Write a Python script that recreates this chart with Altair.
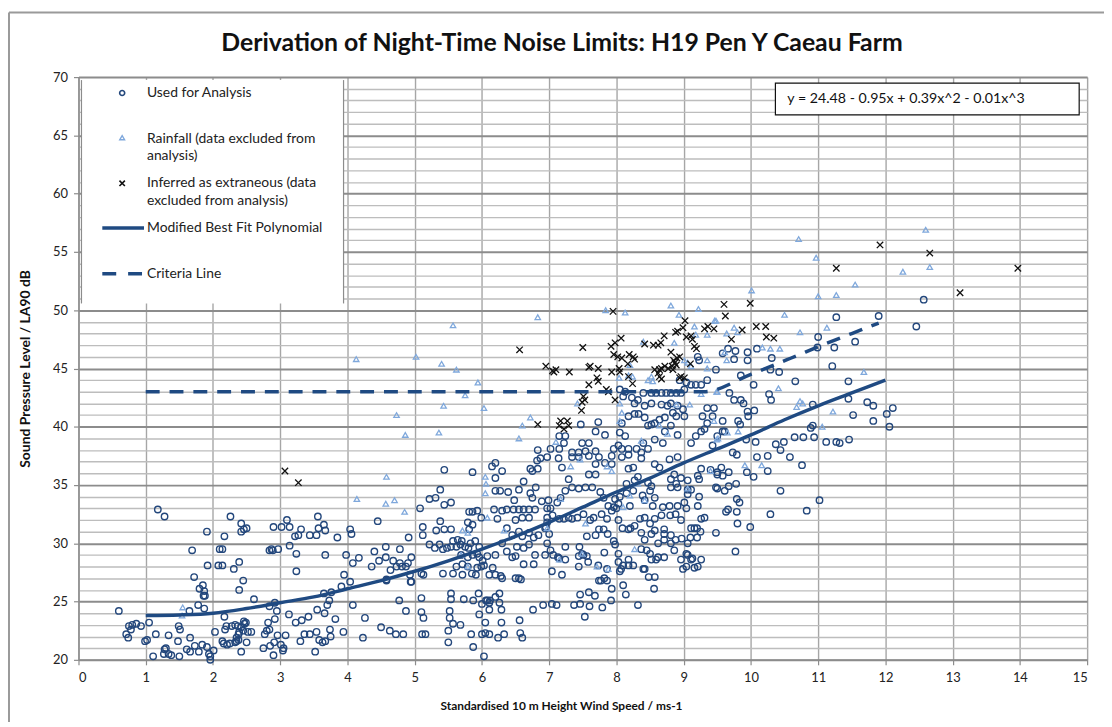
import altair as alt
import pandas as pd

# ---------------- data ----------------
used_pts = [
(0.60,24.2),(1.18,32.9),(1.28,32.3),(1.91,31.0),(2.26,32.3),(2.42,31.7),(2.42,31.0),(2.46,31.2),(2.50,31.3),(2.17,30.6),
(1.69,29.4),(2.10,29.5),(2.14,29.5),(1.92,28.1),(2.08,28.1),(2.14,28.1),(2.31,27.8),(2.39,28.4),(1.72,27.1),(1.85,26.4),
(1.80,26.1),(1.87,25.9),(1.88,25.5),(1.86,25.5),(2.45,26.8),(2.39,26.0),(2.61,25.2),(1.78,24.7),(1.87,24.4),(1.65,24.2),
(2.17,23.7),(2.46,23.3),(2.49,23.2),(2.28,22.9),(2.33,23.0),(2.37,22.9),(2.42,22.8),(2.47,23.1),(2.18,22.6),(2.20,22.9),
(2.39,22.4),(2.45,22.5),(2.52,22.4),(2.57,22.4),(2.35,21.9),(2.38,22.2),(2.50,21.5),(2.33,21.5),(2.35,21.6),(2.38,21.7),
(2.14,21.6),(2.16,21.4),(2.21,21.3),(2.25,21.4),(2.42,20.7),(2.03,22.4),(1.05,23.2),(0.75,22.9),(0.80,23.0),(0.86,23.1),
(0.93,22.9),(0.78,22.6),(0.71,22.2),(0.74,21.9),(0.99,21.6),(1.02,21.7),(1.15,22.2),(1.34,22.1),(1.49,22.9),(1.51,22.6),
(1.48,21.6),(1.66,21.9),(1.11,20.3),(1.28,20.9),(1.30,21.0),(1.27,20.5),(1.34,20.5),(1.38,20.4),(1.50,20.3),(1.61,20.9),
(1.66,20.7),(1.73,21.2),(1.79,20.7),(1.84,21.3),(1.91,21.1),(1.94,20.5),(1.96,20.3),(1.96,20.0),(2.01,20.8),(2.90,31.4),
(3.02,31.4),(3.14,31.4),(3.10,32.0),(3.31,31.2),(3.22,30.6),(3.27,30.7),(3.44,30.7),(3.54,30.7),(3.56,32.3),(3.57,31.3),
(3.65,31.6),(3.67,31.1),(2.84,29.4),(2.87,29.5),(2.89,29.4),(2.97,29.5),(3.14,29.8),(3.24,29.1),(3.24,27.6),(3.67,29.0),
(2.84,24.6),(2.92,24.9),(2.95,24.2),(3.13,23.9),(3.23,23.2),(3.32,23.4),(3.42,23.7),(3.55,24.3),(3.66,24.0),(3.65,25.7),
(2.92,23.5),(2.82,23.2),(2.80,22.5),(2.84,22.6),(2.77,22.2),(2.96,22.1),(3.08,22.1),(3.30,21.6),(3.36,22.2),(3.44,22.2),
(3.54,22.4),(3.58,21.7),(3.63,21.5),(3.67,21.6),(2.75,21.0),(2.85,21.2),(2.91,21.5),(3.01,21.3),(3.05,21.0),(3.04,20.8),
(2.90,20.4),(3.52,20.7),(3.73,25.1),(3.82,23.5),(3.70,24.7),
(3.85,30.5),(4.04,31.2),(4.06,30.8),(4.45,31.9),(3.98,29.0),(4.17,28.75),(4.08,28.3),(4.36,28.0),(4.47,28.5),(4.57,28.8),
(4.68,28.5),(4.78,28.3),(4.87,28.0),(4.95,28.8),(4.40,29.3),(4.57,29.7),(4.78,29.5),(4.91,30.5),(4.64,27.7),(4.73,28.0),
(4.81,28.0),(4.90,28.3),(4.58,26.9),(4.95,26.7),(3.91,26.3),(3.95,27.3),(4.04,26.7),(3.76,25.8),(4.08,24.7),(4.77,25.1),
(4.87,24.2),(5.10,25.3),(5.10,24.1),(5.13,23.6),(4.26,23.6),(3.94,22.4),(3.74,22.6),(3.75,22.0),(4.50,22.8),(4.63,22.5),
(4.72,22.2),(4.83,22.2),(4.23,21.9),(5.11,22.2),(5.16,22.2),(5.50,22.5),(5.50,21.5),(5.52,23.6),(5.57,23.1),(5.52,24.2),
(5.54,25.2),(5.54,25.7),(5.68,23.0),(5.73,25.2),(5.87,25.1),(5.96,23.9),(6.00,24.8),(6.06,25.1),(6.11,24.9),(6.12,25.1),
(5.84,22.2),(5.87,21.1),(6.00,22.2),(6.05,22.3),(6.11,22.2),(6.24,21.9),(6.33,22.2),(6.05,23.2),(6.29,23.2),(6.29,24.3),
(6.03,20.3),(5.95,25.7),(6.26,25.7),(6.56,23.4),(6.57,22.3),(6.60,21.9),(6.76,24.3),(6.91,24.7),(7.04,24.8),(5.08,33.0),
(5.12,31.4),(5.22,33.8),(5.38,34.6),(5.31,33.9),(5.44,33.3),(5.54,33.5),(5.12,30.7),(5.22,29.9),(5.30,29.6),(5.37,29.9),
(5.42,29.5),(5.48,29.6),(5.54,29.7),(5.62,29.7),(5.68,29.9),(5.75,29.7),(5.80,29.6),(5.32,31.1),(5.38,31.9),(5.44,31.2),
(5.54,31.2),(5.57,30.2),(5.64,30.3),(5.70,30.2),(5.79,31.8),(5.81,32.7),(5.86,32.7),(5.93,32.8),(5.81,31.2),(5.86,31.6),
(5.99,32.2),(6.18,32.9),(6.23,32.1),(6.30,32.8),(6.20,34.5),(6.27,34.5),(6.39,34.4),(6.48,33.7),(6.55,34.6),(6.62,35.3),
(6.72,34.3),(6.75,33.9),(6.80,34.8),(6.20,35.6),(5.86,36.1),(5.44,36.3),(6.37,32.9),(6.47,32.9),(6.55,32.9),(6.62,32.9),
(6.70,32.9),(6.79,32.9),(6.50,32.0),(6.60,32.2),(6.70,32.2),(6.37,31.3),(6.45,30.7),(6.55,31.0),(6.60,30.6),(6.70,30.9),
(6.77,30.5),(6.84,30.7),(6.89,33.6),(6.97,33.0),(6.99,33.7),(6.94,31.3),(6.52,29.7),(6.62,29.6),(6.70,29.9),(6.30,30.0),
(6.37,29.3),(6.45,28.8),(6.50,28.9),(6.20,29.0),(6.62,28.2),(6.77,28.2),(6.79,29.0),(6.94,29.0),(7.06,29.0),(6.50,27.0),
(6.55,27.0),(6.58,26.9),(5.93,27.9),(5.99,28.0),(6.03,28.1),(6.11,27.3),(6.16,27.9),(6.20,27.3),(6.28,27.2),(6.30,27.0),
(5.93,29.1),(5.96,28.8),(6.01,28.5),(6.08,28.9),(5.96,29.7),(5.90,30.2),(5.83,30.0),(5.62,28.0),(5.71,28.2),(5.79,28.0),
(5.85,27.4),(5.91,27.3),(5.42,27.4),(5.57,27.4),(5.71,27.3),(4.94,26.7),(4.93,27.3),(5.10,27.4),(5.13,27.3),(4.58,26.8),
(5.69,29.0),(5.79,28.8),(5.86,29.0),(6.26,24.9),(6.20,25.4),(6.08,25.1),(6.11,24.3),
(6.15,36.6),(6.20,36.9),(6.30,36.2),(6.83,38.0),(6.87,37.3),(6.82,37.1),(6.72,36.4),(6.83,36.4),(6.75,36.2),
(7.53,23.7),(7.11,24.7),(7.37,24.7),(7.46,24.8),(7.60,24.6),(7.68,25.5),(7.79,24.5),(7.92,25.1),(7.93,26.1),(8.10,26.4),
(8.14,25.6),(8.32,24.7),(8.56,26.1),(8.48,27.1),(8.40,27.8),(7.59,25.8),(7.46,25.6),(7.19,27.3),(7.04,27.6),(7.15,28.7),
(7.44,28.9),(7.49,29.1),(7.56,28.9),(7.58,28.4),(7.73,28.1),(7.86,27.8),(7.82,27.0),(7.77,26.8),(7.74,26.8),(7.86,26.8),
(8.03,28.4),(8.10,28.1),(8.18,28.1),(8.25,28.1),(8.05,27.6),(8.07,27.8),(8.18,28.6),(8.03,29.1),(7.82,29.2),(7.96,30.2),
(7.98,29.9),(7.24,29.7),(7.02,29.4),(7.45,29.7),(7.74,31.2),(7.87,30.8),(7.81,31.2),(7.69,30.7),(7.56,30.6),(8.09,31.3),
(8.21,31.3),(8.37,30.9),(8.57,31.1),(8.52,30.8),(8.42,30.3),(8.62,30.0),(8.71,30.3),(8.81,30.0),(8.88,30.3),(8.97,30.4),
(9.10,30.5),(9.20,30.5),(9.06,30.0),(9.25,31.0),(9.11,31.3),(9.16,31.3),(9.20,31.3),(8.71,30.8),(8.81,30.7),(8.71,31.2),
(8.37,29.5),(8.45,29.4),(8.50,29.1),(8.62,28.8),(8.71,28.8),(8.52,28.6),(8.59,28.6),(9.11,28.6),(9.26,28.6),(9.16,27.9),
(9.48,30.9),(9.31,32.2),(9.26,32.1),(8.96,32.0),(8.88,32.5),(8.80,32.4),(8.67,32.4),(8.57,32.1),(8.57,33.9),(8.42,33.7),
(8.54,33.2),(8.69,33.1),(8.79,33.2),(8.91,33.2),(9.01,33.5),(9.04,33.0),(9.21,33.2),(9.23,34.0),(8.81,35.5),(8.89,35.1),
(8.91,34.8),(8.81,34.8),(8.86,35.9),(8.96,35.6),(9.06,35.4),(9.23,35.5),(9.21,35.8),(9.26,36.4),(9.40,36.3),(9.50,35.9),
(9.48,34.8),(9.06,34.2),(9.11,34.6),(9.06,34.6),(8.50,34.5),(8.39,34.1),(8.52,34.9),(8.47,35.2),(8.32,35.7),(8.27,35.4),
(8.25,34.5),(8.15,35.1),(8.15,34.3),(8.05,34.0),(7.98,33.8),(7.96,33.1),(8.03,33.4),(7.88,33.2),(7.81,33.9),(7.76,34.4),
(7.64,34.8),(7.54,34.8),(7.44,34.7),(7.34,34.8),(7.24,34.5),(7.17,33.9),(7.12,33.5),(7.02,33.0),(6.97,32.2),(7.05,32.4),
(7.15,32.1),(7.22,32.1),(7.29,32.2),(7.34,32.1),(7.42,32.2),(7.51,32.5),(7.61,32.0),(7.66,32.2),(7.78,32.5),(7.86,32.1),
(7.93,32.8),(8.00,33.0),(8.03,32.0),(8.18,31.2),(8.27,31.5),(8.35,32.1),(8.42,32.2),(8.50,31.7),(8.20,33.2),(7.14,37.3),
(7.19,36.5),(7.34,37.4),(7.44,37.4),(7.59,37.5),(7.69,36.8),(7.74,37.4),(7.83,36.9),(7.93,36.8),(8.08,37.4),(8.18,36.4),
(8.25,36.5),(8.37,37.3),(8.57,36.8),(8.64,36.5),(8.79,37.2),(8.91,37.4),(7.69,35.9),(7.59,35.9),(7.29,35.5),(6.97,30.0),
(7.00,30.8),(6.97,31.8),(6.95,31.4),(7.24,28.6),(7.13,28.8),(7.44,28.0),(7.51,29.0),(8.42,27.8),(8.57,27.1),(8.96,28.6),
(8.99,27.8),(9.04,28.0),(8.86,29.4),(9.04,29.1),(9.06,29.0),(9.13,28.7),(9.21,28.0),
(9.21,46.0),(9.23,45.7),(9.48,44.9),(9.35,44.0),(9.26,43.6),(9.18,43.6),(9.11,43.6),(9.04,43.8),(8.94,44.0),(9.01,43.2),
(8.05,43.2),(8.13,43.0),(8.10,42.6),(8.23,42.5),(8.32,42.3),(8.40,42.9),(8.52,42.9),(8.59,42.9),(8.67,42.9),(8.74,42.9),
(8.81,42.9),(8.89,42.9),(8.96,42.9),(8.27,42.0),(8.42,41.8),(8.52,42.0),(8.67,41.9),(8.81,42.0),(8.91,41.8),(8.18,40.9),
(8.27,41.1),(8.08,40.3),(8.33,41.1),(8.42,40.8),(8.47,40.1),(8.52,40.2),(8.57,40.3),(8.64,40.6),(8.72,40.8),(8.84,41.2),
(8.76,41.8),(8.89,40.9),(8.99,41.5),(9.01,40.9),(8.81,40.1),(8.72,39.6),(8.91,39.3),(8.05,39.5),(8.13,39.2),(8.03,38.4),
(8.18,38.1),(8.30,38.1),(8.40,38.6),(8.57,38.9),(8.69,38.6),(8.47,38.1),(8.37,37.8),(8.18,37.6),(8.08,38.1),(7.96,38.1),
(7.93,37.5),(7.47,40.2),(7.15,39.2),(7.24,39.2),(7.22,38.6),(7.49,38.6),(7.59,38.6),(7.15,38.1),(7.34,37.8),(7.44,37.8),
(7.54,37.9),(7.69,37.9),(7.73,40.4),(7.69,39.6),(7.83,39.3),(9.35,41.6),(9.45,41.6),(9.28,40.9),(9.43,40.9),(9.35,40.3),
(9.31,39.8),(9.26,39.6),(9.18,39.2),(9.11,38.6),(9.43,38.4),(9.50,39.2),(9.58,39.6),(6.97,37.4),(7.02,38.1),
(11.90,49.5),(11.27,49.4),(11.55,47.3),(11.00,47.7),(10.99,46.8),(11.24,46.8),(11.21,45.2),(9.66,46.7),(9.77,46.5),(9.95,46.4),
(9.58,46.3),(9.75,45.8),(9.95,45.7),(10.09,46.7),(10.31,45.9),(10.42,44.7),(10.29,44.9),(9.85,44.4),(10.04,43.6),(10.66,43.9),
(11.45,43.9),(10.27,42.8),(10.30,42.3),(9.75,42.3),(9.85,42.3),(9.89,42.0),(9.68,42.9),(10.92,41.9),(11.45,42.4),(11.73,42.1),
(11.82,41.8),(11.52,41.0),(11.82,40.5),(9.95,41.3),(9.96,40.9),(10.05,41.4),(9.58,40.5),(9.81,40.5),(9.84,40.2),(9.61,39.6),
(10.89,39.9),(10.92,40.1),(10.65,39.1),(10.78,39.1),(10.94,39.1),(11.12,38.7),(11.27,38.7),(11.32,38.6),(11.46,38.9),(10.07,38.7),
(9.93,38.9),(10.37,38.5),(10.49,38.7),(10.44,38.0),(9.73,37.8),(9.79,37.6),(10.09,37.4),(10.25,37.5),(10.58,37.4),
(9.56,36.5),(9.50,36.1),(9.58,35.8),(9.67,36.1),(10.76,36.7),(9.94,36.1),(10.04,35.7),(10.25,36.2),(9.78,35.1),(9.67,34.9),
(9.61,34.5),(9.50,34.7),(10.44,34.5),(11.02,33.7),(9.79,33.8),(9.83,33.5),(9.66,32.9),(9.63,32.7),(9.79,32.7),(10.29,32.5),
(10.83,32.8),(9.80,31.7),(9.99,31.4),(9.77,29.3),
(12.57,50.9),(12.46,48.6),(12.11,41.6),(12.02,41.1),(12.06,40.0),
]

rain_pts = [
(1.55,24.5),(1.54,23.8),(4.58,35.7),(4.14,33.8),(4.57,33.4),(4.70,33.7),(4.85,32.7),(6.05,35.7),(6.06,35.1),(6.05,34.3),
(6.08,32.2),(6.33,31.1),(6.97,31.3),(5.71,31.1),(5.79,30.9),(5.69,29.0),(5.79,28.0),(4.13,45.8),(5.02,46.0),(5.40,45.4),
(5.57,48.7),(5.62,44.9),(5.94,43.8),(5.75,42.7),(5.43,41.8),(6.03,41.6),(4.73,41.0),(4.86,39.3),(5.36,39.5),(6.83,49.4),
(6.72,40.8),(6.60,40.1),(6.55,39.0),(7.84,50.0),(8.13,49.8),(8.81,50.4),(8.93,49.6),(9.22,50.1),(9.46,49.1),(9.16,48.6),
(9.35,47.9),(9.18,47.9),(8.40,47.3),(8.86,47.2),(9.01,45.7),(9.06,45.5),(9.35,45.7),(9.35,45.0),(9.11,45.2),(8.20,45.3),
(8.18,44.4),(8.04,44.2),(8.24,44.3),(8.47,44.0),(8.54,43.9),(8.52,44.3),(7.42,42.0),(7.10,38.7),(8.05,42.0),(8.08,41.2),
(9.26,42.8),(9.49,43.0),(8.89,41.9),(9.09,41.9),(9.45,40.5),(9.49,38.9),(8.64,40.1),(8.76,39.4),(8.37,38.8),(8.05,40.5),
(7.32,36.6),(7.46,37.2),(7.86,36.6),(7.93,36.2),(8.32,35.1),(8.20,34.1),(8.10,33.1),(8.42,33.7),(8.27,29.5),(7.88,27.8),
(7.71,28.0),(7.49,29.1),(7.15,28.6),(7.17,33.8),(9.06,34.7),(9.40,36.2),(7.54,31.7),
(10.97,54.5),(11.55,52.2),(11.27,51.3),(11.00,51.2),(10.01,51.7),(10.50,49.6),(11.13,48.5),(10.73,48.1),(9.48,49.1),(9.75,48.5),
(9.64,48.0),(9.80,48.1),(10.17,46.8),(10.29,46.7),(10.43,46.7),(9.61,46.4),(9.64,45.7),(11.68,44.7),(10.41,43.3),(9.50,43.0),
(10.73,42.2),(10.77,42.0),(10.68,41.7),(11.22,41.3),(11.06,40.0),(9.81,39.6),(9.65,39.5),(9.51,39.0),(9.91,36.7),(10.16,36.7),
(12.60,56.9),(12.66,53.7),(12.26,53.3),(10.71,56.1),
]

extr_pts = [
(3.07,36.2),(3.27,35.2),(6.56,46.6),(6.83,40.2),(6.95,45.2),(7.05,44.8),(7.95,49.9),(7.50,46.8),(7.92,46.9),(7.98,47.2),
(8.07,47.6),(7.96,46.2),(8.02,46.0),(8.08,45.9),(8.19,46.2),(8.27,45.8),(8.25,46.0),(7.07,44.7),(7.10,44.9),(7.30,44.7),
(7.59,45.1),(7.61,45.2),(7.73,45.0),(7.71,44.2),(7.73,43.9),(7.59,43.6),(7.85,43.2),(7.88,43.0),(7.98,42.3),(7.93,44.7),
(8.04,45.0),(8.05,44.7),(8.18,44.3),(8.24,43.7),(8.17,45.4),(7.51,42.6),(7.53,42.3),(7.49,42.1),(7.48,41.4),(7.17,40.5),
(7.27,40.5),(7.15,40.1),(7.29,40.1),(7.22,39.8),(8.42,47.1),(8.55,47.0),(8.62,47.0),(8.66,47.2),(8.71,47.8),(8.57,44.9),
(8.64,44.9),(8.67,45.0),(8.72,45.2),(8.77,45.0),(8.84,44.9),(8.83,45.2),(8.87,45.5),(8.89,45.3),(8.62,44.6),(8.64,44.3),
(8.67,44.1),(8.94,44.2),(8.96,44.3),(9.01,44.2),(8.81,46.4),(8.85,45.7),(8.90,45.9),(8.94,46.0),(8.91,48.2),(9.02,49.1),
(8.99,48.5),(9.04,47.7),(9.11,47.8),(9.13,47.5),(9.16,46.9),(9.19,46.7),(9.31,48.4),(9.36,48.6),(9.45,48.4),(9.10,45.4),
(9.60,50.5),(9.99,50.6),(9.62,49.5),(9.87,48.3),(9.71,47.5),(10.08,48.6),(10.22,48.6),(10.23,47.7),(10.34,47.6),(11.27,53.6),
(11.92,55.6),(12.66,54.9),(13.97,53.6),(13.11,51.5),(8.88,48.1),
]

fit_x = [1, 1.5, 2, 2.5, 3, 3.5, 4, 4.5, 5, 5.5, 6, 6.5, 7, 7.5, 8, 8.5, 9, 9.5, 10, 10.5, 11, 11.5, 12]
fit_y = [23.8, 23.85, 24.0, 24.4, 24.9, 25.4, 26.1, 26.8, 27.6, 28.5, 29.5, 30.6, 31.8, 33.1, 34.4, 35.6, 36.9, 38.1, 39.3, 40.6, 41.8, 42.9, 44.0]

crit_x = [1, 9.3, 10.0, 10.6, 11.1, 11.5, 11.9]
crit_y = [43, 43, 44.5, 45.9, 47.1, 48.0, 48.9]

x_ticks = list(range(0, 16))
y_ticks = list(range(20, 71))

title_text = "Derivation of Night-Time Noise Limits: H19 Pen Y Caeau Farm"
x_title = "Standardised 10 m Height Wind Speed / ms-1"
y_title = "Sound Pressure Level / LA90 dB"
equation = "y = 24.48 - 0.95x + 0.39x^2 - 0.01x^3"
legend_labels = [
    ["Used for Analysis"],
    ["Rainfall (data excluded from", "analysis)"],
    ["Inferred as extraneous (data", "excluded from analysis)"],
    ["Modified Best Fit Polynomial"],
    ["Criteria Line"],
]

# ---------------- build ----------------
FONT = "Lato"
NAVY = "#23477C"
LINE = "#1F4A82"
RAIN = "#7FA8DC"

used_df = pd.DataFrame(used_pts, columns=["x", "y"])
rain_df = pd.DataFrame(rain_pts, columns=["x", "y"])
extr_df = pd.DataFrame(extr_pts, columns=["x", "y"])
fit_df = pd.DataFrame({"x": fit_x, "y": fit_y})
crit_df = pd.DataFrame({"x": crit_x, "y": crit_y})
one = pd.DataFrame({"k": [0]})

X = alt.X("x:Q", scale=alt.Scale(domain=[0, 15], nice=False, zero=False),
          axis=alt.Axis(values=x_ticks, tickCount=40, format="d", title=x_title, grid=True, gridColor="#A6A6A6", gridWidth=1.4,
                        tickColor="#8C8C8C", tickSize=5, tickWidth=1.2, domainColor="#8C8C8C", domainWidth=1.5,
                        labelFont=FONT, labelFontSize=13, labelColor="#222222", labelPadding=7, labelOverlap=False,
                        titleFont=FONT, titleFontSize=12, titleFontWeight="bold", titleColor="#111111",
                        titlePadding=16, titleX=486))
Y = alt.Y("y:Q", scale=alt.Scale(domain=[20, 70], nice=False, zero=False),
          axis=alt.Axis(values=y_ticks, tickCount=100, format="d", title=y_title, grid=True,
                        gridColor={"condition": {"test": "datum.value % 5 === 0", "value": "#8C8C8C"}, "value": "#BDBDBD"},
                        gridWidth={"condition": {"test": "datum.value % 5 === 0", "value": 2}, "value": 1.4},
                        tickColor={"condition": {"test": "datum.value % 5 === 0", "value": "#8C8C8C"}, "value": "transparent"},
                        tickSize=5, tickWidth=1.2, domainColor="#8C8C8C", domainWidth=1.5,
                        labelExpr="datum.value % 5 === 0 ? datum.label : ''", labelOverlap=False,
                        labelFont=FONT, labelFontSize=13, labelColor="#222222", labelPadding=6,
                        titleFont=FONT, titleFontSize=14, titleFontWeight="bold", titleColor="#111111",
                        titlePadding=20))

xs = alt.X("x:Q")
ys = alt.Y("y:Q")

circles = alt.Chart(used_df).mark_point(shape="circle", filled=False, size=42, strokeWidth=1.4, color=NAVY, opacity=1).encode(x=X, y=Y)
tris = alt.Chart(rain_df).mark_point(shape="triangle-up", filled=False, size=30, strokeWidth=1.3, color=RAIN, opacity=1).encode(x=xs, y=ys)
XPATH = "M-1,-1L1,1M-1,1L1,-1"
crosses = alt.Chart(extr_df).mark_point(shape=XPATH, filled=False, size=42, strokeWidth=1.3, color="#111111", opacity=1).encode(x=xs, y=ys)
fit = alt.Chart(fit_df).mark_line(color=LINE, strokeWidth=3.5, interpolate="monotone").encode(x=xs, y=ys)
crit = alt.Chart(crit_df).mark_line(color=LINE, strokeWidth=3.5, strokeDash=[14, 10], interpolate="monotone").encode(x=xs, y=ys)

# title as a text mark above the plot area
title_mark = alt.Chart(one).mark_text(align="center", baseline="alphabetic", font=FONT, fontSize=25,
                                      fontWeight="bold", color="#111111").encode(
    x=alt.value(487), y=alt.value(-26), text=alt.value(title_text))

# legend (drawn in pixel space of the plot area)
leg_box = alt.Chart(one).mark_rect(fill="white").encode(
    x=alt.value(3), x2=alt.value(267), y=alt.value(3), y2=alt.value(228))
leg_l = alt.Chart(one).mark_rule(color="#8C8C8C", strokeWidth=1.2).encode(x=alt.value(3), y=alt.value(3), y2=alt.value(228))
leg_r = alt.Chart(one).mark_rule(color="#8C8C8C", strokeWidth=1.2).encode(x=alt.value(267), y=alt.value(3), y2=alt.value(228))

sym_c = alt.Chart(one).mark_point(shape="circle", filled=False, size=26, strokeWidth=1.6, color=NAVY, opacity=1).encode(x=alt.value(44), y=alt.value(16))
sym_t = alt.Chart(one).mark_point(shape="triangle-up", filled=False, size=24, strokeWidth=1.4, color=RAIN, opacity=1).encode(x=alt.value(44), y=alt.value(61))
sym_x = alt.Chart(one).mark_point(shape=XPATH, filled=False, size=30, strokeWidth=1.6, color="#111111", opacity=1).encode(x=alt.value(44), y=alt.value(107))
sym_l = alt.Chart(one).mark_rule(color=LINE, strokeWidth=3.5).encode(x=alt.value(24), x2=alt.value(66), y=alt.value(152))
sym_d = alt.Chart(one).mark_rule(color=LINE, strokeWidth=3.5, strokeDash=[14, 12]).encode(x=alt.value(24), x2=alt.value(66), y=alt.value(198))

leg_y = [20, 66, 111, 156, 202]
leg_texts = []
for lab, yy in zip(legend_labels, leg_y):
    leg_texts.append(
        alt.Chart(one).mark_text(align="left", baseline="alphabetic", font=FONT, fontSize=14, color="#222222", lineHeight=18)
        .encode(x=alt.value(69), y=alt.value(yy), text=alt.value(lab if len(lab) > 1 else lab[0]))
    )

eq_box = alt.Chart(one).mark_rect(fill="white", stroke="#111111", strokeWidth=1.2).encode(
    x=alt.value(702), x2=alt.value(1008), y=alt.value(6), y2=alt.value(38))
eq_txt = alt.Chart(one).mark_text(align="left", baseline="middle", font=FONT, fontSize=14.3, color="#111111").encode(
    x=alt.value(714), y=alt.value(22), text=alt.value(equation))

# outer chart-area border (top and left edges)
border_top = alt.Chart(one).mark_rule(color="#9A9A9A", strokeWidth=2).encode(x=alt.value(-70), x2=alt.value(1040), y=alt.value(-65))
border_left = alt.Chart(one).mark_rule(color="#9A9A9A", strokeWidth=2).encode(x=alt.value(-70), y=alt.value(-65), y2=alt.value(670))

chart = alt.layer(
    circles, tris, crosses, fit, crit,
    leg_box, leg_l, leg_r, sym_c, sym_t, sym_x, sym_l, sym_d, *leg_texts,
    eq_box, eq_txt, border_top, border_left, title_mark,
).properties(
    width=1016, height=587,
    autosize=alt.AutoSizeParams(type="none"),
    padding={"left": 71, "top": 67, "right": 17, "bottom": 60},
).configure_view(stroke="#8C8C8C", strokeWidth=1.5).configure(background="white")

chart.save("out.html", embed_options={"renderer": "svg", "actions": False})
